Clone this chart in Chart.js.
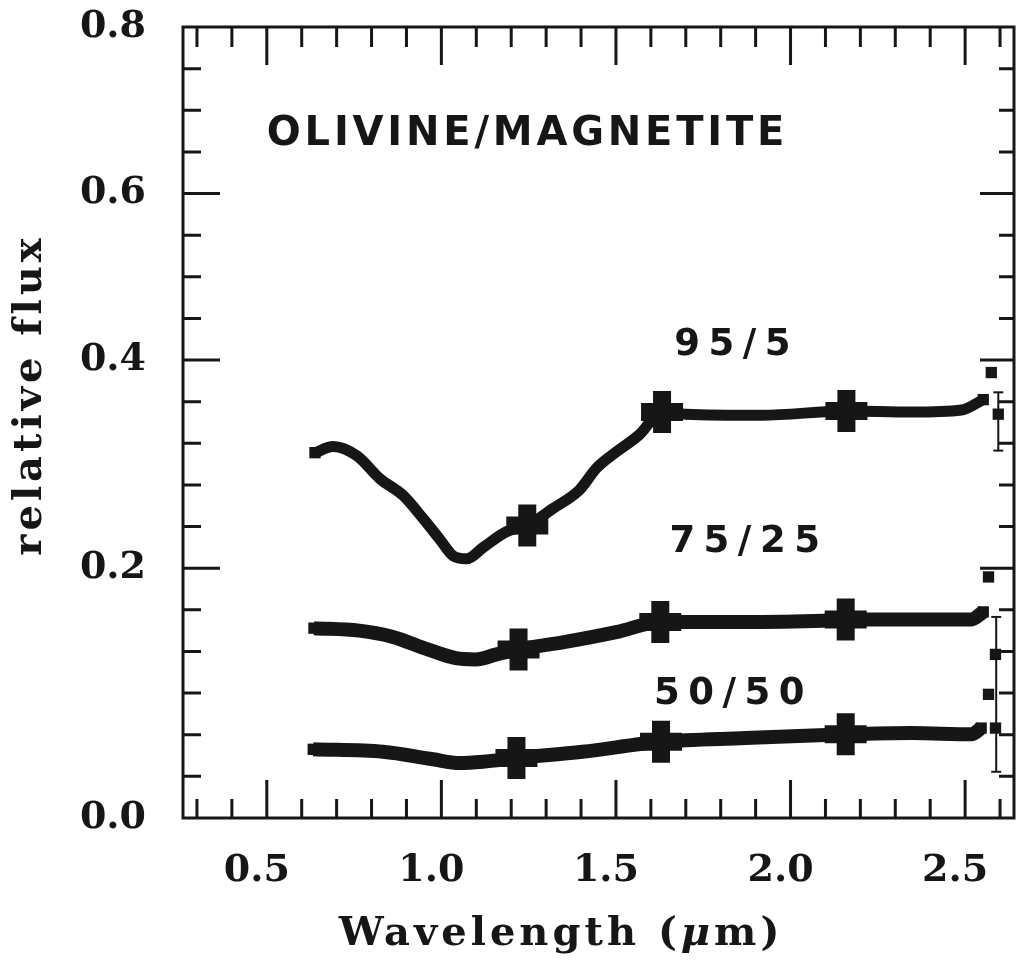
<!DOCTYPE html>
<html>
<head>
<meta charset="utf-8">
<script src="https://cdn.jsdelivr.net/npm/chart.js@4/dist/chart.umd.min.js"></script>
<style>
  html, body { margin: 0; padding: 0; background: #fff; }
  #wrap { width: 1016px; height: 962px; }
</style>
</head>
<body>
<div id="wrap"><canvas id="c" width="1016" height="962"></canvas></div>
<script>
// olivine / magnetite mixtures - spectra

// 95/5
const wl95 = [0.638, 0.69, 0.758, 0.824, 0.89, 0.947, 0.995, 1.033, 1.072, 1.12, 1.186, 1.246, 1.318, 1.395, 1.444, 1.49, 1.566, 1.632, 1.70, 1.918, 2.16, 2.347, 2.49, 2.552];
const flux95 = [0.311, 0.317, 0.308, 0.286, 0.270, 0.248, 0.228, 0.212, 0.209, 0.220, 0.235, 0.241, 0.257, 0.275, 0.296, 0.309, 0.328, 0.350, 0.348, 0.347, 0.351, 0.350, 0.352, 0.362];

// 75/25
const wl75 = [0.635, 0.764, 0.861, 0.961, 1.041, 1.098, 1.158, 1.221, 1.355, 1.504, 1.627, 1.847, 2.093, 2.158, 2.347, 2.518, 2.552];
const flux75 = [0.152, 0.150, 0.145, 0.135, 0.128, 0.127, 0.131, 0.135, 0.141, 0.149, 0.157, 0.157, 0.158, 0.159, 0.159, 0.159, 0.165];

// 50/50
const wl50 = [0.633, 0.833, 0.976, 1.052, 1.119, 1.215, 1.404, 1.629, 1.871, 2.158, 2.347, 2.518, 2.546];
const flux50 = [0.055, 0.053, 0.047, 0.044, 0.045, 0.048, 0.053, 0.061, 0.064, 0.067, 0.068, 0.067, 0.072];

// broad-band points (J, H, K)
const bandWl95 = [1.246, 1.632, 2.16];
const bandFlux95 = [0.241, 0.350, 0.351];
const bandWl75 = [1.221, 1.627, 2.158];
const bandFlux75 = [0.135, 0.157, 0.159];
const bandWl50 = [1.215, 1.629, 2.158];
const bandFlux50 = [0.048, 0.061, 0.067];

// loose points at the long end
const edgeWl = [2.575, 2.595, 2.567, 2.587, 2.567, 2.587];
const edgeFlux = [0.388, 0.348, 0.193, 0.131, 0.099, 0.072];

// error bars
const errWl = [2.595, 2.589];
const errLo = [0.313, 0.037];
const errHi = [0.369, 0.161];

const xTickLabels = [0.5, 1.0, 1.5, 2.0, 2.5];
const yTickLabels = [0.0, 0.2, 0.4, 0.6, 0.8];

const seriesNames = ['95/5', '75/25', '50/50'];

// -------------------------------------------------------------
// the printed y axis is not evenly spaced: labels sit on tick 0, 6, 11, 15, 19 of 19
const yLabelFrac = [0, 6 / 19, 11 / 19, 15 / 19, 1];

function fluxToFrac(v) {
    const b = yTickLabels, f = yLabelFrac;
    let i = 0;
    while (i < b.length - 2 && v > b[i + 1]) i++;
    return f[i] + (v - b[i]) / (b[i + 1] - b[i]) * (f[i + 1] - f[i]);
}
function fracToFlux(d) {
    const b = yTickLabels, f = yLabelFrac;
    let i = 0;
    while (i < f.length - 2 && d > f[i + 1]) i++;
    return b[i] + (d - f[i]) / (f[i + 1] - f[i]) * (b[i + 1] - b[i]);
}

class PiecewiseScale extends Chart.LinearScale {
    getPixelForValue(value) {
        if (value === null || value === undefined) return NaN;
        return this.getPixelForDecimal(fluxToFrac(value));
    }
    getValueForPixel(pixel) {
        return fracToFlux(this.getDecimalForPixel(pixel));
    }
}
PiecewiseScale.id = 'piecewise';
PiecewiseScale.defaults = Chart.LinearScale.defaults;
Chart.register(PiecewiseScale);

const pts = (xs, ys) => xs.map((x, i) => ({ x: x, y: ys[i] }));
const INK = '#161616';

// frame with inward ticks on all four sides
const framePlugin = {
    id: 'frame',
    afterDraw(chart) {
        const ctx = chart.ctx;
        const a = chart.chartArea;
        const xs = chart.scales.x, ys = chart.scales.y;
        ctx.save();
        ctx.strokeStyle = INK;
        ctx.lineWidth = 3;
        ctx.strokeRect(a.left, a.top, a.right - a.left, a.bottom - a.top);

        ctx.beginPath();
        for (let k = 3; k <= 26; k++) {
            const v = k / 10;
            const px = xs.getPixelForValue(v);
            const major = k % 5 === 0;
            const lb = major ? 38 : 19;
            const lt = major ? 38 : 20;
            ctx.moveTo(px, a.bottom); ctx.lineTo(px, a.bottom - lb);
            ctx.moveTo(px, a.top); ctx.lineTo(px, a.top + lt);
        }
        for (let k = 1; k < 19; k++) {
            const py = ys.getPixelForDecimal(k / 19);
            const major = yLabelFrac.some(f => Math.abs(f - k / 19) < 1e-6);
            const ll = major ? 37 : 18;
            const lr = major ? 34 : 15;
            ctx.moveTo(a.left, py); ctx.lineTo(a.left + ll, py);
            ctx.moveTo(a.right, py); ctx.lineTo(a.right - lr, py);
        }
        ctx.stroke();
        ctx.restore();
    }
};

// axis titles and curve labels
const textPlugin = {
    id: 'texts',
    afterDraw(chart) {
        const ctx = chart.ctx;
        const a = chart.chartArea;
        const xs = chart.scales.x, ys = chart.scales.y;
        ctx.save();
        ctx.fillStyle = INK;

        // x title, with an italic mu
        const up = 'bold 40px "DejaVu Serif"';
        const it = 'italic bold 40px "DejaVu Serif"';
        ctx.letterSpacing = '4px';
        ctx.textBaseline = 'alphabetic';
        ctx.textAlign = 'left';
        const parts = [['Wavelength (', up], ['\u03bc', it], ['m)', up]];
        let total = 0;
        parts.forEach(p => { ctx.font = p[1]; total += ctx.measureText(p[0]).width; });
        let tx = a.left + 378 - total / 2;
        parts.forEach(p => {
            ctx.font = p[1];
            ctx.fillText(p[0], tx, a.bottom + 127);
            tx += ctx.measureText(p[0]).width;
        });

        ctx.font = up;
        ctx.textAlign = 'center';
        ctx.save();
        ctx.translate(a.left - 152, a.top + 368);
        ctx.rotate(-Math.PI / 2);
        ctx.textBaseline = 'middle';
        ctx.fillText('relative flux', 0, 0);
        ctx.restore();

        ctx.font = 'bold 40px "DejaVu Sans"';
        ctx.letterSpacing = '3.8px';
        ctx.textAlign = 'left';
        ctx.fillText('OLIVINE/MAGNETITE', xs.getPixelForValue(0.5), ys.getPixelForValue(0.658));

        ctx.font = 'bold 37px "DejaVu Sans"';
        ctx.letterSpacing = '8.5px';
        ctx.fillText(seriesNames[0], xs.getPixelForValue(1.667), ys.getPixelForValue(0.406));
        ctx.fillText(seriesNames[1], xs.getPixelForValue(1.653), ys.getPixelForValue(0.2155));
        ctx.fillText(seriesNames[2], xs.getPixelForValue(1.609), ys.getPixelForValue(0.091));
        ctx.restore();
    }
};

function lineSet(label, xs, ys, width) {
    return {
        label: label,
        data: pts(xs, ys),
        showLine: true,
        borderColor: INK,
        borderWidth: width,
        borderJoinStyle: 'round',
        borderCapStyle: 'butt',
        cubicInterpolationMode: 'monotone',
        pointStyle: 'rect',
        pointRadius: ctx => (ctx.dataIndex === xs.length - 1 || ctx.dataIndex === 0) ? 8 : 0,
        pointBackgroundColor: INK,
        pointBorderWidth: 0
    };
}

function bandSet(label, xs, ys) {
    return {
        label: label,
        data: pts(xs, ys),
        showLine: false,
        pointStyle: 'cross',
        pointRadius: 21,
        pointBorderWidth: 18,
        pointBorderColor: INK,
        pointBackgroundColor: INK
    };
}

function errSet(i) {
    return {
        label: 'err' + i,
        data: [{ x: errWl[i], y: errLo[i] }, { x: errWl[i], y: errHi[i] }],
        showLine: true,
        borderColor: INK,
        borderWidth: 2,
        pointStyle: 'line',
        pointRadius: 5,
        pointBorderWidth: 2,
        pointBorderColor: INK
    };
}

const datasets = [
    lineSet(seriesNames[0], wl95, flux95, 11),
    lineSet(seriesNames[1], wl75, flux75, 14),
    lineSet(seriesNames[2], wl50, flux50, 14),
    bandSet('band ' + seriesNames[0], bandWl95, bandFlux95),
    bandSet('band ' + seriesNames[1], bandWl75, bandFlux75),
    bandSet('band ' + seriesNames[2], bandWl50, bandFlux50),
    errSet(0),
    errSet(1),
    {
        label: 'edge',
        data: pts(edgeWl, edgeFlux),
        showLine: false,
        pointStyle: 'rect',
        pointRadius: 8,
        pointBackgroundColor: INK,
        pointBorderWidth: 0
    }
];

new Chart(document.getElementById('c'), {
    type: 'scatter',
    data: { datasets: datasets },
    options: {
        responsive: false,
        devicePixelRatio: 1,
        animation: false,
        layout: { autoPadding: false, padding: { top: 27, right: 2, left: 0, bottom: 0 } },
        plugins: {
            legend: { display: false },
            tooltip: { enabled: false }
        },
        scales: {
            x: {
                type: 'linear',
                min: 0.26,
                max: 2.64,
                grid: { display: false, drawTicks: false },
                border: { display: false },
                afterBuildTicks: s => { s.ticks = xTickLabels.map(v => ({ value: v })); },
                afterFit: s => { s.height = 144; s.paddingLeft = 0; s.paddingRight = 0; },
                ticks: {
                    color: INK,
                    padding: 30,
                    labelOffset: -10,
                    maxRotation: 0,
                    font: { family: 'DejaVu Serif', size: 38, weight: 'bold' },
                    callback: v => Number(v).toFixed(1)
                }
            },
            y: {
                type: 'piecewise',
                min: 0,
                max: 0.8,
                grid: { display: false, drawTicks: false },
                border: { display: false },
                afterBuildTicks: s => { s.ticks = yTickLabels.map(v => ({ value: v })); },
                afterFit: s => { s.width = 183; s.paddingTop = 0; s.paddingBottom = 0; },
                ticks: {
                    color: INK,
                    padding: 37,
                    font: { family: 'DejaVu Serif', size: 38, weight: 'bold' },
                    callback: v => Number(v).toFixed(1)
                }
            }
        }
    },
    plugins: [framePlugin, textPlugin]
});
</script>
</body>
</html>
